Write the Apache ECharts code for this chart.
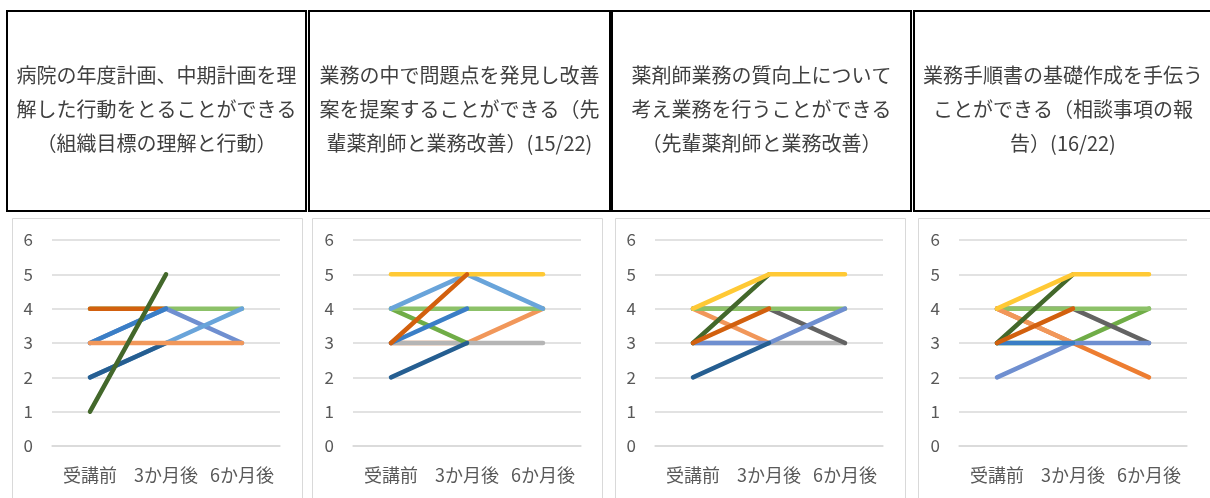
<!DOCTYPE html>
<html><head><meta charset="utf-8">
<script src="https://cdn.jsdelivr.net/npm/echarts@6/dist/echarts.min.js"></script>
<style>html,body{margin:0;padding:0;background:#fff}#c{width:1210px;height:498px}</style>
</head><body><div id="c"></div><script>
// ---------- data ----------
const categories = ['受講前', '3か月後', '6か月後'];
const yTicks = [0, 1, 2, 3, 4, 5, 6];

const title1 = ['病院の年度計画、中期計画を理', '解した行動をとることができる', '（組織目標の理解と行動）'];
const title2 = ['業務の中で問題点を発見し改善', '案を提案することができる（先', '輩薬剤師と業務改善）(15/22)'];
const title3 = ['薬剤師業務の質向上について', '考え業務を行うことができる', '（先輩薬剤師と業務改善）'];
const title4 = ['業務手順書の基礎作成を手伝う', 'ことができる（相談事項の報', '告）(16/22)'];

// each entry: [colour key, values for 受講前 / 3か月後 / 6か月後] (drawn bottom -> top)
const panel1 = [
  ['lightGreen', [4, 4, 4]],
  ['darkOrange', [4, 4, null]],
  ['periwinkle', [3, 4, 3]],
  ['blue', [3, 4, null]],
  ['lightBlue', [2, 3, 4]],
  ['navy', [2, 3, null]],
  ['lightOrange', [3, 3, 3]],
  ['darkGreen', [1, 5, null]]
];
const panel2 = [
  ['lightOrange', [3, 3, 4]],
  ['gray', [3, 3, 3]],
  ['green', [4, 3, null]],
  ['lightGreen', [4, 4, 4]],
  ['lightBlue', [4, 5, 4]],
  ['yellow', [5, 5, 5]],
  ['navy', [2, 3, null]],
  ['blue', [3, 4, null]],
  ['darkOrange', [3, 5, null]]
];
const panel3 = [
  ['gray', [3, 3, 3]],
  ['lightOrange', [4, 3, null]],
  ['darkGray', [4, 4, 3]],
  ['lightGreen', [4, 4, 4]],
  ['periwinkle', [3, 3, 4]],
  ['navy', [2, 3, null]],
  ['darkGreen', [3, 5, null]],
  ['yellow', [4, 5, 5]],
  ['darkOrange', [3, 4, null]]
];
const panel4 = [
  ['orange', [4, 3, 2]],
  ['green', [3, 3, 4]],
  ['darkGray', [4, 4, 3]],
  ['lightGreen', [4, 4, 4]],
  ['lightOrange', [4, 3, null]],
  ['periwinkle', [2, 3, 3]],
  ['blue', [3, 3, null]],
  ['darkGreen', [3, 5, null]],
  ['yellow', [4, 5, 5]],
  ['darkOrange', [3, 4, null]]
];

// ---------- styles / layout ----------
const colors = {
  lightGreen: '#8cc168', green: '#70ad47', darkGreen: '#43682b',
  darkOrange: '#d2600e', orange: '#ed7d31', lightOrange: '#f1975a',
  periwinkle: '#6f8fd0', blue: '#3a7ec6', lightBlue: '#69a4da', navy: '#255e91',
  yellow: '#ffc935', gray: '#b5b5b5', darkGray: '#636363'
};
const FONT = '"Noto Sans CJK JP", "Noto Sans", sans-serif';
const gridLefts = [52, 353, 655, 959];
const gridWidth = 228;
const boxes = [[7, 299], [309, 301], [612, 299], [914, 298]];
const panelRects = [[12.5, 290], [312.5, 290], [615.5, 290], [918.5, 300]];
const titles = [title1, title2, title3, title4];
const panels = [panel1, panel2, panel3, panel4];

const grids = [], xAxes = [], yAxes = [], series = [], graphics = [];
panels.forEach((p, i) => {
  grids.push({ left: gridLefts[i], width: gridWidth, top: 240, height: 206 });
  xAxes.push({
    type: 'category', gridIndex: i, data: categories, boundaryGap: true,
    axisTick: { show: false },
    axisLine: { show: true, lineStyle: { color: '#d9d9d9', width: 1.5 } },
    axisLabel: { interval: 0, color: '#595959', fontSize: 18, margin: 20, fontFamily: FONT }
  });
  yAxes.push({
    type: 'value', gridIndex: i, min: yTicks[0], max: yTicks[yTicks.length - 1], interval: 1,
    axisLine: { show: false }, axisTick: { show: false },
    splitLine: { lineStyle: { color: '#d9d9d9', width: 1.5 } },
    axisLabel: { color: '#595959', fontSize: 17, margin: 19, fontFamily: FONT }
  });
  p.forEach(([key, vals], j) => {
    series.push({
      type: 'line', name: 'p' + (i + 1) + '-' + j, xAxisIndex: i, yAxisIndex: i,
      data: vals, showSymbol: false, symbol: 'none', silent: true, animation: false,
      lineStyle: { color: colors[key], width: 4.5, cap: 'round', join: 'round' }
    });
  });
  const [bx, bw] = boxes[i];
  graphics.push({
    type: 'rect', shape: { x: bx, y: 11, width: bw, height: 200 },
    style: { fill: 'none', stroke: '#000', lineWidth: 2 }, silent: true
  });
  graphics.push({
    type: 'text', x: bx + bw / 2, y: 109,
    style: {
      text: titles[i].join('\n'), align: 'center', verticalAlign: 'middle',
      fontSize: 20, lineHeight: 34, fill: '#404040', fontFamily: FONT
    }, silent: true
  });
  const [px, pw] = panelRects[i];
  graphics.push({
    type: 'rect', shape: { x: px, y: 218.5, width: pw, height: 300 },
    style: { fill: 'none', stroke: '#d9d9d9', lineWidth: 1 }, silent: true, z: -1
  });
});

const chart = echarts.init(document.getElementById('c'));
chart.setOption({
  animation: false,
  backgroundColor: '#fff',
  grid: grids, xAxis: xAxes, yAxis: yAxes, series: series,
  graphic: graphics
});
</script></body></html>
